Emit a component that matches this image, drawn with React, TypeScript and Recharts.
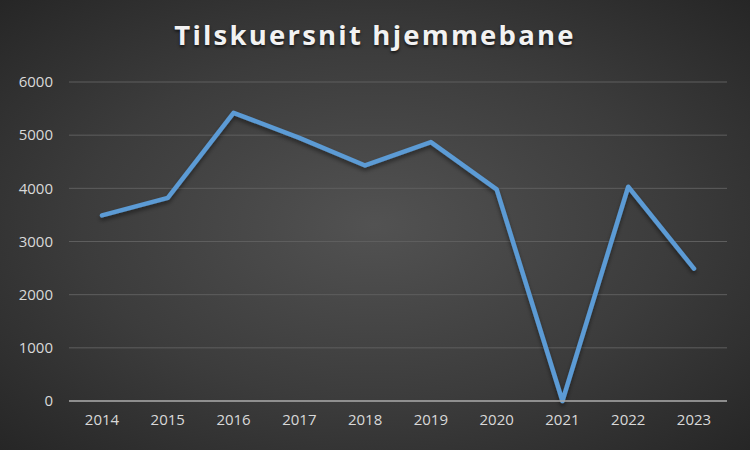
import { LineChart, Line, XAxis, YAxis, CartesianGrid } from 'recharts'

const years = ['2014', '2015', '2016', '2017', '2018', '2019', '2020', '2021', '2022', '2023']
const attendance = [3490, 3820, 5420, 4950, 4430, 4870, 3980, 0, 4030, 2490]
const yTicks = [0, 1000, 2000, 3000, 4000, 5000, 6000]

const data = years.map((year, i) => ({ year, attendance: attendance[i] }))

const tickStyle = { fill: '#d9d9d9', fontSize: 15, fontFamily: 'Open Sans, sans-serif' }

export default function App() {
  return (
    <div
      style={{
        position: 'absolute',
        left: 0,
        top: 0,
        width: 750,
        height: 450,
        background: 'radial-gradient(ellipse at 50% 50%, #525252 0%, #3c3c3c 55%, #262626 100%)',
        overflow: 'hidden',
      }}
    >
      <div
        style={{
          position: 'absolute',
          top: 16,
          left: 0,
          width: 750,
          textAlign: 'center',
          color: '#f2f2f2',
          fontFamily: 'Open Sans, sans-serif',
          fontWeight: 700,
          fontSize: 27.5,
          letterSpacing: 2.2,
          textShadow: '0 2px 3px rgba(0,0,0,0.6)',
        }}
      >
        Tilskuersnit hjemmebane
      </div>
      <LineChart width={750} height={450} data={data} margin={{ top: 82, right: 23, bottom: 0, left: 0 }}>
        <defs>
          <filter id="lineShadow" x="-10%" y="-10%" width="120%" height="130%">
            <feDropShadow dx="0" dy="3" stdDeviation="2" floodColor="#000" floodOpacity="0.45" />
          </filter>
        </defs>
        <CartesianGrid stroke="#5e5e5e" strokeWidth={1} vertical={false} />
        <XAxis
          dataKey="year"
          tick={tickStyle}
          tickLine={false}
          axisLine={{ stroke: '#a6a6a6', strokeWidth: 1.5 }}
          tickSize={0}
          tickMargin={13}
          height={49}
          padding={{ left: 33, right: 33 }}
        />
        <YAxis
          domain={[0, 6000]}
          ticks={yTicks}
          tick={tickStyle}
          tickLine={false}
          axisLine={false}
          tickSize={0}
          tickMargin={16}
          width={69}
        />
        <Line
          type="linear"
          dataKey="attendance"
          stroke="#5b9bd5"
          strokeWidth={4.5}
          strokeLinejoin="round"
          strokeLinecap="round"
          dot={false}
          filter="url(#lineShadow)"
          isAnimationActive={false}
        />
      </LineChart>
    </div>
  )
}
